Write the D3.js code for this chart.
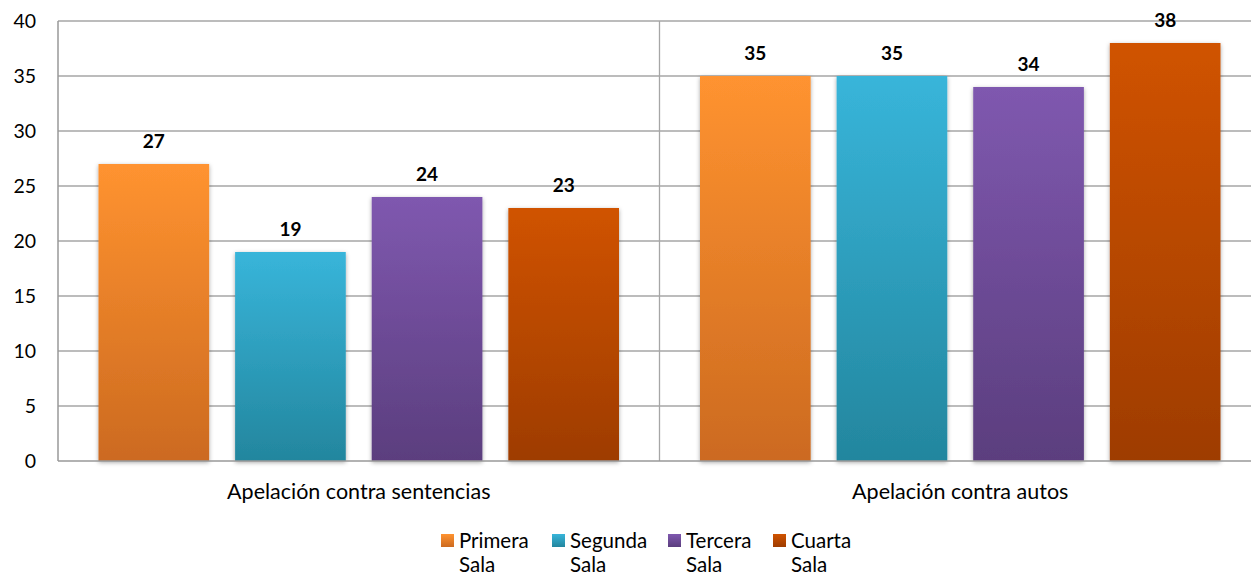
<!DOCTYPE html>
<html><head><meta charset="utf-8">
<script src="https://cdn.jsdelivr.net/npm/d3@7/dist/d3.min.js"></script>
<style>body{margin:0;background:#fff}svg{display:block}text{font-family:Lato,"Open Sans",sans-serif}</style>
</head><body>
<svg id="c" width="1251" height="576"></svg>
<script>
const categories = ["Apelación contra sentencias", "Apelación contra autos"];
const series = ["Primera Sala", "Segunda Sala", "Tercera Sala", "Cuarta Sala"];
const legendLines = [["Primera","Sala"],["Segunda","Sala"],["Tercera","Sala"],["Cuarta","Sala"]];
const primera = [27, 35];
const segunda = [19, 35];
const tercera = [24, 34];
const cuarta = [23, 38];
const yTicks = [0, 5, 10, 15, 20, 25, 30, 35, 40];
const values = [primera, segunda, tercera, cuarta];
const colorsTop = ["#FF9330", "#38B5DA", "#7F58AF", "#D05300"];
const colorsBot = ["#CC6A20", "#23869E", "#5B3E7E", "#9E3C00"];

const svg = d3.select("#c");
const L = 58, R = 1261, T = 21, B = 461;
const x0 = d3.scaleBand().domain(categories).range([L, R]);
const x1 = d3.scaleBand().domain(series).range([40.5, x0.bandwidth() - 40.5]).paddingInner(0.19);
const y = d3.scaleLinear().domain([0, 40]).range([B, T]);

const defs = svg.append("defs");
series.forEach((s, i) => {
  const g = defs.append("linearGradient").attr("id", "g" + i).attr("x1", 0).attr("y1", 0).attr("x2", 0).attr("y2", 1);
  g.append("stop").attr("offset", "0%").attr("stop-color", colorsTop[i]);
  g.append("stop").attr("offset", "100%").attr("stop-color", colorsBot[i]);
});
const f = defs.append("filter").attr("id", "sh").attr("x", "-10%").attr("y", "-10%").attr("width", "120%").attr("height", "120%");
f.append("feDropShadow").attr("dx", 0).attr("dy", 1.5).attr("stdDeviation", 2).attr("flood-color", "#000").attr("flood-opacity", 0.35);

// gridlines
svg.append("g").selectAll("line").data(yTicks.filter(d => d > 0)).join("line")
  .attr("x1", L).attr("x2", 1251).attr("y1", d => y(d)).attr("y2", d => y(d))
  .attr("stroke", "#A6A6A6").attr("stroke-width", 1.3);
// category separator
svg.append("line").attr("x1", x0(categories[1])).attr("x2", x0(categories[1])).attr("y1", T).attr("y2", B)
  .attr("stroke", "#A6A6A6").attr("stroke-width", 1.3);

// bars
const groups = svg.append("g").selectAll("g").data(categories).join("g")
  .attr("transform", d => `translate(${x0(d)},0)`);
groups.selectAll("rect").data((c, ci) => series.map((s, si) => ({s, si, v: values[si][ci]}))).join("rect")
  .attr("x", d => x1(d.s)).attr("width", x1.bandwidth())
  .attr("y", d => y(d.v)).attr("height", d => y(0) - y(d.v))
  .attr("fill", d => `url(#g${d.si})`).attr("filter", "url(#sh)");
groups.selectAll("text").data((c, ci) => series.map((s, si) => ({s, si, v: values[si][ci]}))).join("text")
  .attr("x", d => x1(d.s) + x1.bandwidth() / 2).attr("y", d => y(d.v) - 16)
  .attr("text-anchor", "middle").attr("font-weight", "bold").attr("font-size", 19).attr("fill", "#000")
  .text(d => d.v);

// axes lines
svg.append("line").attr("x1", L).attr("x2", L).attr("y1", T).attr("y2", B).attr("stroke", "#989898").attr("stroke-width", 1.5);
svg.append("line").attr("x1", L).attr("x2", 1251).attr("y1", B).attr("y2", B).attr("stroke", "#989898").attr("stroke-width", 1.5);

// y tick labels
const yAxis = d3.axisLeft(y).tickValues(yTicks).tickSize(0).tickPadding(22);
const ya = svg.append("g").attr("transform", `translate(${L},0)`).call(yAxis);
ya.select(".domain").remove();
ya.selectAll("text").attr("font-size", 19.5).attr("fill", "#000").style("font-family", "Lato, sans-serif");

// x category labels
const xAxis = d3.axisBottom(x0).tickSize(0).tickPadding(0);
const xa = svg.append("g").attr("transform", `translate(0,${B})`).call(xAxis);
xa.select(".domain").remove();
xa.selectAll("text").attr("font-size", 21.5).attr("fill", "#000").attr("dy", null).attr("y", 38)
  .style("font-family", "Lato, sans-serif");

// legend
const legX = [441, 552, 668, 773];
const lg = svg.append("g").selectAll("g").data(series).join("g")
  .attr("transform", (d, i) => `translate(${legX[i]},534)`);
lg.append("rect").attr("width", 13).attr("height", 13).attr("fill", (d, i) => `url(#g${i})`);
lg.append("text").attr("x", 18).attr("y", 14).attr("font-size", 20.5).attr("fill", "#000")
  .selectAll("tspan").data((d, i) => legendLines[i]).join("tspan")
  .attr("x", 18).attr("dy", (d, j) => j === 0 ? 0 : 24).text(d => d);
</script>
</body></html>
